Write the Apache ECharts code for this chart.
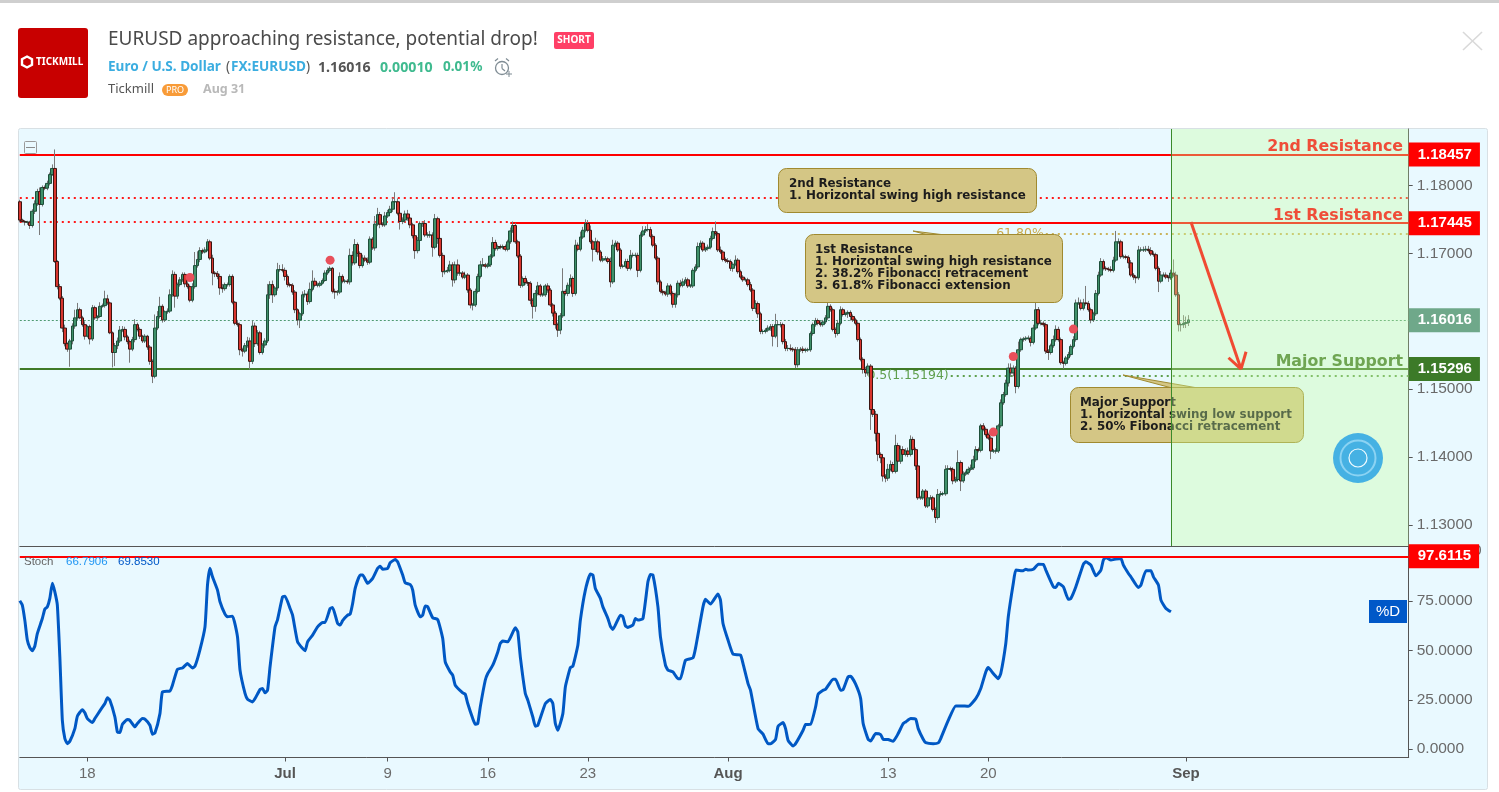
<!DOCTYPE html>
<html><head><meta charset="utf-8">
<style>html,body{margin:0;padding:0;background:#fff}#c{width:1499px;height:792px}</style>
<script src="https://cdn.jsdelivr.net/npm/echarts@6/dist/echarts.min.js"></script>
</head><body><div id="c"></div>
<script>
const closes=[
1.1749,1.1747,1.1746,1.1746,1.1741,1.1762,1.1773,1.1791,1.1772,1.1797,1.1796,1.1803,1.1816,1.1825,1.1688,1.1651,1.1634,1.1590,1.1567,1.1559,
1.1571,1.1593,1.1605,1.1617,1.1605,1.1595,1.1578,1.1592,1.1574,1.1620,1.1605,1.1607,1.1622,1.1623,1.1633,1.1627,1.1583,1.1554,1.1564,1.1571,
1.1587,1.1588,1.1577,1.1570,1.1559,1.1573,1.1595,1.1588,1.1578,1.1571,1.1578,1.1562,1.1541,1.1519,1.1590,1.1607,1.1622,1.1602,1.1614,1.1615,
1.1639,1.1669,1.1637,1.1654,1.1661,1.1669,1.1655,1.1651,1.1631,1.1651,1.1682,1.1691,1.1704,1.1702,1.1705,1.1717,1.1693,1.1671,1.1670,1.1666,
1.1649,1.1648,1.1654,1.1654,1.1666,1.1628,1.1597,1.1595,1.1558,1.1556,1.1564,1.1571,1.1541,1.1593,1.1567,1.1583,1.1554,1.1565,1.1571,1.1639,
1.1654,1.1639,1.1649,1.1676,1.1676,1.1675,1.1666,1.1654,1.1653,1.1643,1.1617,1.1602,1.1611,1.1639,1.1640,1.1629,1.1647,1.1659,1.1653,1.1653,
1.1656,1.1660,1.1671,1.1675,1.1678,1.1644,1.1643,1.1643,1.1666,1.1659,1.1659,1.1658,1.1697,1.1686,1.1713,1.1700,1.1682,1.1693,1.1690,1.1687,
1.1721,1.1708,1.1743,1.1757,1.1743,1.1742,1.1755,1.1760,1.1765,1.1776,1.1776,1.1759,1.1747,1.1749,1.1758,1.1752,1.1742,1.1726,1.1704,1.1719,
1.1744,1.1744,1.1727,1.1727,1.1727,1.1709,1.1751,1.1722,1.1697,1.1673,1.1674,1.1675,1.1683,1.1661,1.1683,1.1671,1.1671,1.1665,1.1668,1.1646,
1.1624,1.1624,1.1644,1.1666,1.1683,1.1683,1.1681,1.1683,1.1696,1.1716,1.1707,1.1710,1.1709,1.1710,1.1706,1.1717,1.1733,1.1741,1.1717,1.1696,
1.1653,1.1663,1.1657,1.1656,1.1631,1.1622,1.1641,1.1652,1.1639,1.1639,1.1652,1.1646,1.1624,1.1612,1.1595,1.1587,1.1608,1.1644,1.1641,1.1653,
1.1663,1.1641,1.1712,1.1706,1.1724,1.1734,1.1744,1.1734,1.1717,1.1706,1.1717,1.1702,1.1690,1.1692,1.1692,1.1688,1.1658,1.1712,1.1715,1.1705,
1.1681,1.1681,1.1688,1.1678,1.1697,1.1697,1.1697,1.1675,1.1727,1.1733,1.1735,1.1735,1.1725,1.1712,1.1693,1.1658,1.1644,1.1642,1.1640,1.1652,
1.1641,1.1625,1.1639,1.1656,1.1653,1.1658,1.1661,1.1652,1.1652,1.1675,1.1680,1.1710,1.1715,1.1705,1.1707,1.1709,1.1722,1.1732,1.1729,1.1705,
1.1702,1.1691,1.1689,1.1688,1.1678,1.1684,1.1690,1.1673,1.1665,1.1661,1.1661,1.1654,1.1646,1.1619,1.1626,1.1611,1.1585,1.1585,1.1587,1.1590,
1.1592,1.1578,1.1595,1.1595,1.1595,1.1570,1.1560,1.1560,1.1559,1.1558,1.1536,1.1558,1.1559,1.1557,1.1558,1.1558,1.1582,1.1595,1.1601,1.1597,
1.1595,1.1599,1.1605,1.1622,1.1617,1.1588,1.1582,1.1597,1.1617,1.1610,1.1611,1.1613,1.1607,1.1602,1.1597,1.1573,1.1544,1.1529,1.1524,1.1534,
1.1470,1.1463,1.1435,1.1404,1.1399,1.1372,1.1369,1.1382,1.1389,1.1379,1.1417,1.1394,1.1411,1.1404,1.1409,1.1404,1.1426,1.1411,1.1387,1.1340,
1.1340,1.1350,1.1328,1.1340,1.1340,1.1323,1.1311,1.1345,1.1346,1.1346,1.1382,1.1383,1.1382,1.1365,1.1367,1.1392,1.1365,1.1375,1.1377,1.1382,
1.1384,1.1396,1.1411,1.1410,1.1446,1.1441,1.1433,1.1428,1.1409,1.1409,1.1409,1.1446,1.1480,1.1492,1.1509,1.1531,1.1524,1.1531,1.1504,1.1558,
1.1573,1.1574,1.1575,1.1575,1.1569,1.1590,1.1617,1.1597,1.1597,1.1595,1.1556,1.1554,1.1564,1.1573,1.1588,1.1573,1.1539,1.1538,1.1546,1.1551,
1.1563,1.1573,1.1627,1.1627,1.1619,1.1627,1.1626,1.1617,1.1602,1.1611,1.1641,1.1668,1.1688,1.1678,1.1677,1.1676,1.1675,1.1690,1.1717,1.1717,
1.1695,1.1695,1.1694,1.1686,1.1668,1.1665,1.1664,1.1705,1.1705,1.1705,1.1706,1.1704,1.1699,1.1698,1.1678,1.1659,1.1668,1.1668,1.1665,1.1664,
1.1671,1.1668,1.1639,1.1595,1.1595,1.1597,1.1598,1.1602];
const firstOpen=1.1776;
const wickUpPips=[
3,2,2,2,2,3,5,4,6,3,3,4,3,6,28,2,4,3,5,2,
3,4,12,10,3,3,5,2,3,4,3,2,6,3,12,6,2,2,4,5,
6,5,4,3,3,4,8,3,3,2,3,2,3,3,20,8,14,3,2,4,
8,6,4,3,4,3,3,4,3,5,20,12,5,3,4,4,3,5,3,4,
4,6,3,3,3,3,2,5,3,3,4,6,5,8,5,4,3,3,4,16,
5,6,3,10,7,8,4,3,3,3,3,2,3,5,6,4,10,16,5,4,
3,3,4,4,3,2,4,3,6,3,3,3,10,6,8,3,3,5,4,4,
4,3,12,10,4,3,6,4,5,6,14,5,6,4,5,6,3,3,3,5,
3,3,5,4,6,4,7,3,3,4,8,5,6,4,5,8,4,3,5,3,
3,3,4,4,6,10,3,3,3,8,4,3,3,3,3,3,5,6,4,3,
3,3,4,3,3,3,5,6,3,3,3,4,3,3,3,3,4,34,3,4,
6,3,8,4,8,5,6,5,7,3,6,3,3,4,4,3,6,8,4,3,
3,3,4,4,8,4,4,4,4,7,5,8,4,3,3,3,3,3,3,4,
3,3,3,4,5,5,4,3,3,3,4,6,4,3,3,4,4,6,15,3,
5,3,3,4,3,3,7,3,3,3,3,3,4,3,5,3,3,3,3,4,
4,4,16,6,4,3,4,5,6,3,4,4,3,4,3,3,3,3,4,3,
3,3,4,7,3,3,3,5,5,3,3,3,3,3,3,3,3,3,4,4,
3,5,5,3,3,3,3,8,6,4,16,4,6,5,4,5,6,4,3,2,
3,3,3,6,4,3,3,8,4,3,6,5,3,3,4,18,3,4,3,4,
5,6,5,3,3,4,3,3,3,3,4,3,5,4,5,7,7,4,3,12,
3,3,3,4,3,5,12,4,5,3,3,3,3,6,6,4,3,3,3,4,
3,5,5,8,5,6,25,4,3,3,5,5,5,3,3,3,5,5,16,5,
3,3,3,3,4,3,3,6,4,5,5,5,5,4,3,3,6,4,4,3,
5,20,5,4,3,12,9,7];
const wickDownPips=[
3,2,5,4,5,3,4,3,45,3,3,3,3,2,2,4,3,6,4,4,
26,5,4,3,2,3,5,2,8,3,3,3,2,2,3,3,2,22,20,5,
3,3,5,4,20,3,4,3,4,3,3,4,5,10,3,3,3,4,3,3,
3,3,17,4,3,3,5,3,3,3,3,3,4,3,2,2,3,18,5,4,
10,6,3,3,3,3,3,3,8,8,3,3,12,4,5,3,3,3,4,3,
6,12,3,4,3,3,6,4,3,4,5,8,12,3,4,5,3,3,3,3,
3,2,2,3,3,3,10,5,3,3,3,3,4,4,3,5,4,3,3,4,
3,3,4,3,6,3,3,3,3,4,3,3,12,4,4,4,5,4,12,4,
3,5,3,4,4,14,3,8,3,8,4,3,3,10,5,4,4,3,3,4,
5,8,3,3,3,3,3,3,3,3,3,3,3,3,3,3,3,3,3,3,
4,3,3,4,6,18,8,3,3,3,3,4,3,5,6,10,6,3,3,4,
3,5,3,3,3,3,3,3,3,18,4,4,3,3,3,3,8,3,3,3,
4,3,3,4,3,3,3,10,3,3,3,3,3,3,3,4,3,4,3,4,
3,5,5,4,3,3,3,3,3,3,3,3,3,3,3,3,3,3,3,3,
3,3,3,3,4,5,3,3,3,3,3,3,3,4,6,6,4,4,3,3,
4,15,3,33,4,4,4,4,3,3,5,4,3,4,3,3,3,3,3,3,
3,3,3,3,3,3,6,3,3,3,3,6,6,3,3,3,3,6,6,4,
30,4,12,10,8,8,6,4,3,3,3,3,4,3,3,4,3,3,6,3,
3,3,3,3,3,3,8,3,3,3,3,3,3,5,3,3,15,3,3,3,
3,3,3,3,3,3,3,3,12,3,4,3,3,3,3,5,6,5,10,3,
3,3,3,3,6,3,3,3,3,3,4,11,3,3,3,3,3,8,3,3,
3,3,3,3,3,3,3,3,5,3,3,3,3,3,3,3,3,3,3,3,
3,3,3,8,3,4,8,3,3,3,3,3,3,3,3,16,3,3,3,6,
3,3,3,10,10,5,7,5];
const stochBars=[0,1,2,3,4,5,6,7,9,10,11,12,13,14,15,16,17,18,19,20,22,23,25,26,27,29,30,32,34,35,36,38,39,40,41,43,44,46,47,49,50,52,53,54,56,57,60,61,63,65,67,69,70,72,74,75,76,77,79,80,82,83,85,87,88,90,91,93,94,96,97,98,99,100,102,103,105,106,108,109,111,113,114,115,117,119,121,122,124,125,127,128,129,131,132,133,134,136,137,139,141,143,144,145,147,148,150,151,153,154,156,157,158,160,161,162,163,165,167,169,170,172,173,174,177,178,179,181,182,183,184,186,187,189,191,
192,193,195,198,199,200,202,203,205,206,207,210,212,213,214,215,217,218,220,221,223,224,226,228,229,230,232,233,235,236,237,240,241,242,243,245,246,247,249,251,252,253,255,256,258,259,261,263,264,266,269,270,273,274,276,279,280,281,283,285,288,289,291,292,295,297,299,300,302,303,305,306,307,309,310,313,314,316,318,319,321,322,325,326,328,329,331,332,334,336,337,339,340,342,344,345,347,349,351,353,354,356,358,359,361,362,365,367,368,371,374,376,379,382,384,386,387,389,391,
392,394,395,397,398,400,401,402,403,405,407,409,410,413,414,415,417,419,420,422,425,426,428,430,432,433,434,436,438,440,441,443,444,447,448,450,452,453,455,456,458,460];
const stochValues=[75.1,72.9,65.3,55.2,51.4,49.8,52.1,58.5,66.1,70.9,72.0,76.3,83.9,79.6,72.9,46.7,14.6,5.4,2.8,4.0,10.4,16.7,20.0,18.4,15.5,13.5,15.5,19.4,23.1,26.0,24.8,16.3,8.7,8.4,12.6,15.0,14.6,11.3,13.0,15.5,15.2,12.1,7.6,8.2,18.0,29.0,29.5,32.4,40.5,41.1,43.3,41.1,42.0,50.4,61.9,83.0,91.5,87.2,80.5,74.6,68.3,67.0,67.3,56.8,40.0,28.2,25.3,23.9,25.6,30.2,30.7,28.5,29.8,41.7,61.9,65.6,77.1,77.4,71.2,67.8,54.3,51.0,49.8,54.3,57.7,61.9,64.1,64.1,71.2,71.7,63.6,62.8,65.0,67.8,68.3,73.7,81.3,88.1,88.1,83.9,86.4,91.5,92.6,91.1,91.5,94.3,96.0,94.8,88.1,84.2,83.3,80.5,72.9,67.0,67.8,72.5,72.0,66.5,65.6,56.0,44.2,39.1,37.4,32.4,28.5,27.8,23.1,15.5,12.6,13.0,21.4,34.9,38.3,42.5,49.2,
53.5,54.7,54.3,61.4,59.4,46.7,28.2,24.8,16.3,11.6,12.1,23.1,25.1,23.1,13.0,9.6,18.0,31.5,41.3,42.0,52.6,65.3,80.5,88.6,88.1,81.3,76.3,72.0,66.1,62.2,60.6,67.8,67.0,62.4,61.6,62.8,66.1,65.3,66.1,84.7,88.4,88.1,72.0,56.8,42.5,40.0,39.1,35.7,35.7,45.0,46.2,51.0,72.0,75.8,73.4,78.5,75.4,63.6,55.2,48.1,47.6,43.3,33.2,29.8,10.4,7.6,2.8,2.8,5.0,11.6,13.5,10.4,4.5,1.6,2.8,9.6,12.5,12.6,21.4,27.8,29.8,30.3,35.4,35.4,29.8,30.2,36.6,36.9,32.9,25.6,13.0,5.0,4.2,7.9,7.4,5.0,4.9,4.0,7.9,13.0,13.8,15.5,15.2,10.4,5.0,3.3,2.8,3.2,5.4,14.6,21.9,21.9,21.7,25.6,30.7,39.1,41.3,38.3,35.7,
38.3,53.5,67.0,83.9,90.6,90.3,90.3,91.1,90.6,91.0,93.6,93.5,90.6,82.2,81.8,83.9,82.2,75.8,76.3,82.2,93.6,94.8,93.1,87.7,90.6,95.7,97.0,95.7,96.2,96.5,93.1,88.9,87.2,81.8,83.0,90.3,90.3,87.2,83.0,75.4,71.2,69.5];
const signalBars=[68,124,389,397,421];
const signalPrices=[1.16644,1.16900,1.14368,1.15482,1.15885];
const tickBars=[27,106,147,187,227,283,347,387,466];
const tickLabels=['18','Jul','9','16','23','Aug','13','20','Sep'];
const boldTicks=['Jul','Aug','Sep'];
const priceTicks=[1.13,1.14,1.15,1.16,1.17,1.18];
const stochTicks=[0,25,50,75];
const levels={res2:1.18457,res1:1.17445,support:1.15296,last:1.16016,dotRed1:1.17816,dotRed2:1.17463,fib618:1.17294,fib50:1.15194,stochLevel:97.6115};
const barCount=556;
const categories=Array.from({length:barCount},(_,i)=>String(i));

const opens=closes.map((c,i)=>i?closes[i-1]:firstOpen);
const bodies=closes.map((c,i)=>[opens[i],c,Math.min(opens[i],c),Math.max(opens[i],c)]);
const wicks=closes.map((c,i)=>{
  const lo=Math.min(opens[i],c)-wickDownPips[i]/10000,hi=Math.max(opens[i],c)+wickUpPips[i]/10000;
  return [lo,lo,lo,hi];
});
const stochLine=stochBars.map((b,i)=>[b,stochValues[i]]);
const lastBar=barCount-1;
const tag=(txt,bg,pad)=>({show:true,position:'end',distance:0,formatter:txt,backgroundColor:bg,color:'#fff',fontFamily:'Liberation Sans',fontWeight:'bold',fontSize:15,padding:pad||[5,8,4,9]});
const noLabel={show:false};
const segment=(a,b,price,style,label)=>[{coord:[a,price],lineStyle:style,label:label||noLabel},{coord:[b,price]}];
const T=(x,y,text,fill,font,extra)=>Object.assign({type:'text',x,y,silent:true,z:8,style:Object.assign({text,fill,font,verticalAlign:'middle'},extra||{})},{});
const B=(x,y,w,h,fill,stroke,r,z,lw)=>({type:'rect',silent:true,z:z,shape:{x,y,width:w,height:h,r:r||0},style:{fill,stroke:stroke||null,lineWidth:lw||1}});
const L=(x1,y1,x2,y2,stroke,lw,z)=>({type:'line',silent:true,z:z||8,shape:{x1,y1,x2,y2},style:{stroke,lineWidth:lw||1}});
const calloutFill='rgb(212,198,133)',calloutStroke='#a08a30';
const calloutFont='bold 11.9px "DejaVu Sans"';
const calloutText=(x,y,lines)=>lines.map((t,i)=>{const e=T(x,y+i*12.3,t,'#1c1c1c',calloutFont);e.z=3;return e;});
const sans='"Noto Sans"';
const graphics=[
 B(0,0,1499,3,'#cfcfcf',null,0,-2),
 B(18.5,128.5,1469,661,'#e9f9ff','#d8e0e4',2,-1),
 B(18,28,70,70,'#c80000',null,3,1),
 {type:'polygon',silent:true,z:8,shape:{points:[[27,56.5],[32,59.2],[32,64.8],[27,67.5],[22,64.8],[22,59.2]]},style:{fill:'none',stroke:'#fff',lineWidth:2.4}},
 T(36,62.5,'TICKMILL','#fff','bold 10px '+sans),
 T(108,40,'EURUSD approaching resistance, potential drop!','#4a4a4a','19px '+sans),
 B(554,32,40,17,'#ff3f66',null,2,1),
 T(574,40.5,'SHORT','#fff','bold 10px '+sans,{align:'center'}),
 T(108,67.5,'Euro / U.S. Dollar','#3bade0','bold 13.6px '+sans),
 T(226,67.5,'(','#555','13.6px '+sans),
 T(231,67.5,'FX:EURUSD','#3bade0','bold 13.6px '+sans),
 T(306,67.5,')','#555','13.6px '+sans),
 T(318,67.5,'1.16016','#555','bold 14.2px '+sans),
 T(380,67.5,'0.00010','#3fba8f','bold 14.2px '+sans),
 T(443,67.5,'0.01%','#3fba8f','bold 13.6px '+sans),
 {type:'circle',silent:true,z:8,shape:{cx:502,cy:68,r:6.5},style:{fill:'none',stroke:'#7f8c94',lineWidth:1.3}},
 L(502,64,502,68.5,'#7f8c94',1.2),L(502,68.5,505,71,'#7f8c94',1.2),L(495,61,498,58.5,'#7f8c94',1.2),L(506,58.5,509,61,'#7f8c94',1.2),L(506,74,512,74,'#7f8c94',1),L(509,71,509,77,'#7f8c94',1),
 T(108,89.5,'Tickmill','#555','13px '+sans),
 B(162,84,26,12,'#f89b38',null,6,1),
 T(175,90.3,'PRO','#fff','9px '+sans,{align:'center'}),
 T(203,89.5,'Aug 31','#b9b9b9','bold 12.5px '+sans),
 L(1463,32,1482,50,'#d9d9d9',1.6),L(1482,32,1463,50,'#d9d9d9',1.6),
 B(24.5,141.5,12,12,'none','#9a9a9a',1,8),L(26,147.5,35,147.5,'#8a8a8a',1),
 // callouts
 {type:'polygon',silent:true,z:3,shape:{points:[[913,231],[926,234.5],[941,234.5]]},style:{fill:calloutFill,stroke:calloutStroke}},
 {type:'polygon',silent:true,z:3,shape:{points:[[1123,375],[1170,387.5],[1195,387.5]]},style:{fill:calloutFill,stroke:calloutStroke}},
 B(778.5,168.5,258,44,calloutFill,calloutStroke,8,3),
 ...calloutText(789,184,['2nd Resistance','1. Horizontal swing high resistance']),
 B(805.5,234.5,257,68,calloutFill,calloutStroke,8,3),
 ...calloutText(815,249.5,['1st Resistance','1. Horizontal swing high resistance','2. 38.2% Fibonacci retracement','3. 61.8% Fibonacci extension']),
 B(1070.5,387.5,233,55,calloutFill,calloutStroke,8,3),
 ...calloutText(1080,402.5,['Major Support','1. horizontal swing low support','2. 50% Fibonacci retracement']),
 // right labels
 T(1403,146.5,'2nd Resistance','#ef4d38','bold 15.8px "DejaVu Sans"',{align:'right'}),
 T(1403,215.5,'1st Resistance','#ef4d38','bold 15.8px "DejaVu Sans"',{align:'right'}),
 T(1403,361.5,'Major Support','#6fa552','bold 15.8px "DejaVu Sans"',{align:'right'}),
 // assistant button
 {type:'circle',silent:true,z:8,shape:{cx:1358,cy:458,r:25},style:{fill:'#45b1e3'}},
 {type:'circle',silent:true,z:8,shape:{cx:1358,cy:458,r:17.5},style:{fill:'none',stroke:'rgba(170,225,250,0.7)',lineWidth:2}},
 {type:'circle',silent:true,z:8,shape:{cx:1358,cy:458,r:9},style:{fill:'none',stroke:'#f0fbff',lineWidth:1.2}},
 // stochastic legend
 T(24,562,'Stoch','#666','11.5px "Liberation Sans"'),
 T(66,562,'66.7906','#2196f3','11.5px "Liberation Sans"'),
 T(118,562,'69.8530','#0058c8','11.5px "Liberation Sans"'),
 B(1369,600,38,23,'#0058c8',null,0,8),
 T(1388,612,'%D','#fff','15px "Liberation Sans"',{align:'center'}),
 Object.assign(T(1473,551,'0','#6a6a6a','15.5px "Liberation Sans"'),{z:1}),
];
const axisGrey='#555';
const tickFont={color:'#6a6a6a',fontFamily:'Liberation Sans',fontSize:15.5,padding:[2,0,0,0]};
const option={
 animation:false,
 backgroundColor:'#fff',
 graphic:{elements:graphics},
 grid:[{left:19.8,width:1388.9,top:129,height:417},{left:19.8,width:1388.9,top:546,height:211.5}],
 xAxis:[
  {type:'category',gridIndex:0,data:categories,boundaryGap:false,axisLine:{show:true,onZero:false,lineStyle:{color:axisGrey}},axisTick:{show:false},axisLabel:{show:false},splitLine:{show:false}},
  {type:'category',gridIndex:1,data:categories,boundaryGap:false,axisLine:{show:true,onZero:false,lineStyle:{color:axisGrey}},
   axisTick:{show:true,length:4,interval:(i)=>tickBars.includes(i),lineStyle:{color:axisGrey}},
   axisLabel:{show:true,interval:(i)=>tickBars.includes(i),margin:9,
     formatter:(v,i)=>{const t=tickLabels[tickBars.indexOf(+v)];return boldTicks.includes(t)?'{b|'+t+'}':'{n|'+t+'}';},
     rich:{b:{fontWeight:'bold',fontFamily:'Liberation Sans',fontSize:15,color:'#555'},n:{fontFamily:'Liberation Sans',fontSize:15,color:'#6a6a6a'}}},
   splitLine:{show:false}}
 ],
 yAxis:[
  {type:'value',gridIndex:0,position:'right',min:1.12691,max:1.18831,splitLine:{show:false},axisLine:{show:true,lineStyle:{color:axisGrey}},
   axisTick:{show:true,length:4,customValues:priceTicks,lineStyle:{color:axisGrey}},
   axisLabel:Object.assign({show:true,margin:8,customValues:priceTicks,formatter:v=>v.toFixed(5)},tickFont)},
  {type:'value',gridIndex:1,position:'right',min:-4.2,max:102.8,splitLine:{show:false},axisLine:{show:true,lineStyle:{color:axisGrey}},
   axisTick:{show:true,length:4,customValues:stochTicks,lineStyle:{color:axisGrey}},
   axisLabel:Object.assign({show:true,margin:8,customValues:stochTicks,formatter:v=>v.toFixed(4)},tickFont)}
 ],
 series:[
  {type:'line',name:'levels',xAxisIndex:0,yAxisIndex:0,data:[],silent:true,
   markLine:{silent:true,z:1,symbol:['none','none'],animation:false,precision:5,data:[
     segment(0,lastBar,levels.last,{color:'#4f9a72',width:1,type:[2,2]},tag('1.16016','#6fa88a')),
     segment(0,lastBar,levels.dotRed1,{color:'#ff1a1a',width:2,type:[2,4]}),
     segment(0,196,levels.dotRed2,{color:'#ff1a1a',width:2,type:[2,4]}),
     segment(410,lastBar,levels.fib618,{color:'#c9b35c',width:2,type:[2,4]},{show:true,position:'start',distance:2,formatter:'61.80%',color:'#c9a94a',fontFamily:'DejaVu Sans',fontSize:12.5}),
     segment(372,lastBar,levels.fib50,{color:'#5f9f4e',width:2,type:[2,4]},{show:true,position:'start',distance:2,formatter:'0.5(1.15194)',color:'#5f9f4e',fontFamily:'DejaVu Sans',fontSize:12.5}),
     segment(0,lastBar,levels.res2,{color:'#f00',width:2,type:'solid'},tag('1.18457','#f00')),
     segment(196,lastBar,levels.res1,{color:'#f00',width:2,type:'solid'},tag('1.17445','#f00')),
     segment(0,lastBar,levels.support,{color:'#3f7a28',width:2,type:'solid'},tag('1.15296','#3c7a28')),
   ]}},
  {type:'candlestick',name:'wicks',xAxisIndex:0,yAxisIndex:0,data:wicks,barWidth:1,z:2,silent:true,
   itemStyle:{color:'#7a7a7a',color0:'#7a7a7a',borderColor:'#7a7a7a',borderColor0:'#7a7a7a',borderWidth:1}},
  {type:'candlestick',name:'EURUSD',xAxisIndex:0,yAxisIndex:0,data:bodies,barWidth:3.2,z:2,silent:true,
   itemStyle:{color:'#3f9069',color0:'#d8352e',borderColor:'#1e4f3a',borderColor0:'#3a1512',borderWidth:1}},
  {type:'scatter',name:'signals',xAxisIndex:0,yAxisIndex:0,data:signalBars.map((b,i)=>[b,signalPrices[i]]),symbolSize:9,z:3,silent:true,itemStyle:{color:'#e8505b',opacity:1}},
  {type:'line',name:'zone',xAxisIndex:0,yAxisIndex:0,data:[],silent:true,
   markArea:{silent:true,z:5,itemStyle:{color:'rgba(200,255,160,0.35)'},data:[[{coord:[460,1.18831]},{coord:[lastBar,1.12691]}]]},
   markLine:{silent:true,z:6,symbol:['none','none'],label:{show:false},data:[
     [{coord:[460,1.18831],lineStyle:{color:'#3a8a2a',width:1,type:'solid'}},{coord:[460,1.12691]}],
     [{coord:[468,1.17463],lineStyle:{color:'#f04a32',width:3,type:'solid'}},{coord:[488,1.15296]}],
     [{coord:[483,1.15463],lineStyle:{color:'#f04a32',width:3,type:'solid'}},{coord:[488,1.15296]}],
     [{coord:[490,1.15551],lineStyle:{color:'#f04a32',width:3,type:'solid'}},{coord:[488,1.15296]}],
   ]}},
  {type:'line',name:'%D',xAxisIndex:1,yAxisIndex:1,data:stochLine,showSymbol:false,symbol:'none',smooth:0.15,silent:true,z:3,
   lineStyle:{color:'#0058c4',width:3},
   markLine:{silent:true,z:4,symbol:['none','none'],data:[segment(0,lastBar,levels.stochLevel,{color:'#f00',width:2,type:'solid'},tag('97.6115','#f00',[5,8,4,9]))]}},
 ]
};
const chart=echarts.init(document.getElementById('c'),null,{width:1499,height:792});
chart.setOption(option);
</script></body></html>
